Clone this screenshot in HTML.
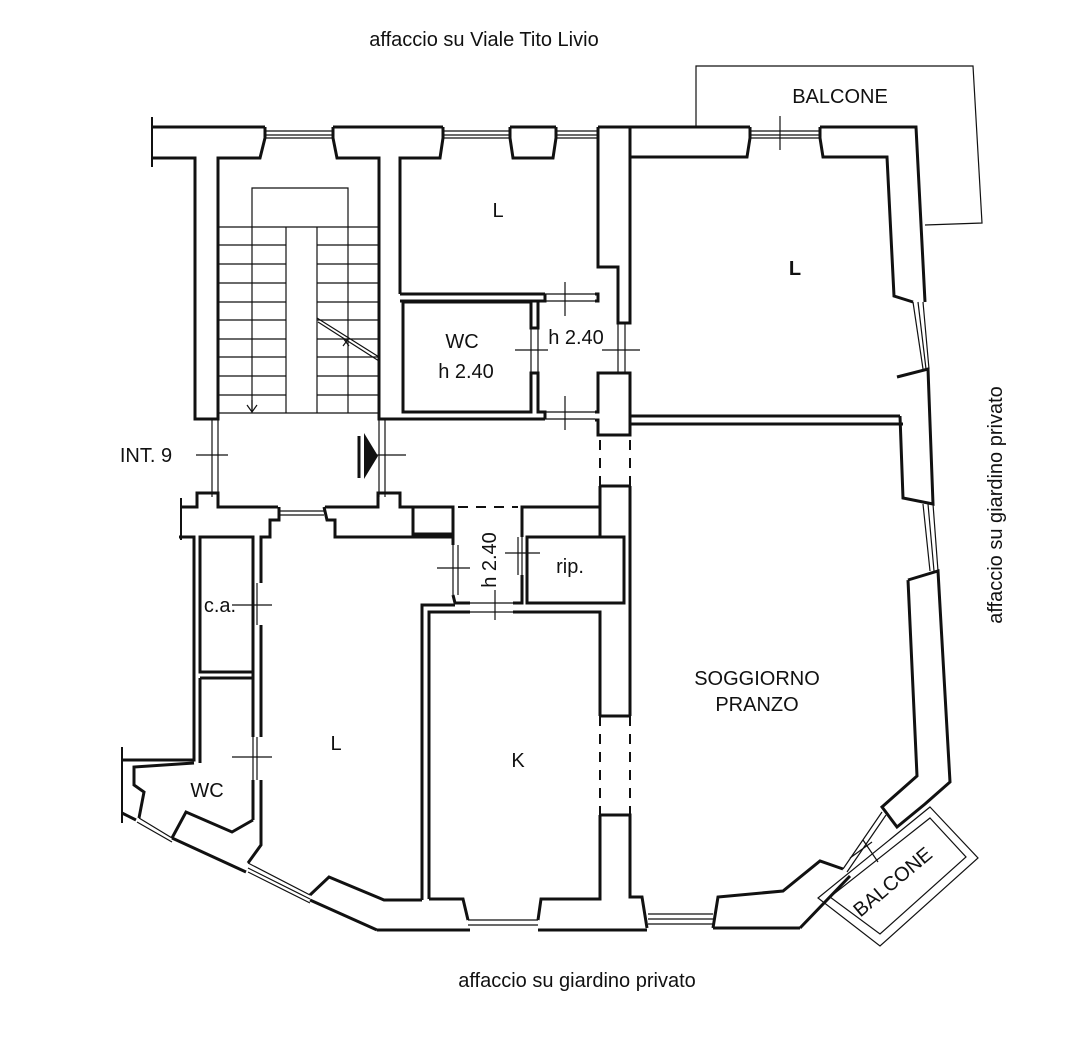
<!DOCTYPE html>
<html><head><meta charset="utf-8"><style>
html,body{margin:0;padding:0;background:#fff}
svg{display:block}
text{font-family:"Liberation Sans",sans-serif;font-size:20px;fill:#111}
</style></head><body>
<svg width="1071" height="1050" viewBox="0 0 1071 1050" xmlns="http://www.w3.org/2000/svg">
<g fill="none" stroke="#111" stroke-width="3" stroke-linejoin="miter">
<polyline points="152,127 265,127"/><polyline points="333,127 443,127"/><polyline points="510,127 556,127"/><polyline points="598,127 750,127"/><polyline points="820,127 916,127 925,302"/>
<polyline points="152,158 195,158 195,419 218,419 218,158 260,158 265,138 265,127"/>
<polyline points="333,127 333,138 337,158 379,158 379,419 400,419 545,419"/>
<polyline points="400,294 400,158 440,158 443,138 443,127"/>
<polyline points="510,127 510,138 513,158 553,158 556,138 556,127"/>
<polyline points="598,127 598,267 618,267 618,323 630,323 630,127"/>
<polyline points="400,294 545,294"/>
<polyline points="400,301 545,301 545,294"/>
<polyline points="403,302 531,302 531,328 538,328 538,302"/>
<polyline points="403,302 403,412 531,412 531,373 538,373 538,412 545,412 545,419"/>
<polyline points="595,294 598,294 598,301 595,301"/>
<polyline points="595,412 598,412 598,373 630,373 630,435 598,435 598,420 595,420"/>
<polyline points="750,127 750,138 747,157 630,157"/>
<polyline points="820,127 820,138 823,157 887,157 894,296 913,302"/>
<polyline points="630,373 630,416 900,416"/>
<polyline points="897,377 928,369 933,504 903,498 900,416"/>
<polyline points="630,435 630,424 903,424"/>
<polyline points="908,580 938,571 950,782 925,804 897,827 882,807 917,776 908,580"/>
<polyline points="843,869 820,861 783,891 718,897 713,928"/>
<polyline points="850,876 800,928"/>
<polyline points="630,486 630,716"/><polyline points="600,486 630,486"/><polyline points="600,486 600,537"/>
<polyline points="600,815 630,815 630,897 642,897 647,928"/>
<polyline points="600,716 630,716"/>
<polyline points="180,507 197,507 197,493 218,493 218,507 278,507"/>
<polyline points="325,507 378,507 378,493 400,493 400,507 453,507"/>
<polyline points="179,537 194,537 194,760 122,760"/>
<polyline points="200,537 253,537 253,583"/>
<polyline points="253,625 253,737"/><polyline points="253,780 253,820"/>
<polyline points="261,583 261,537 270,537 270,520 279,520 279,507"/>
<polyline points="324,507 327,520 335,520 335,537 453,537 453,545"/>
<rect x="200" y="537" width="53" height="135"/>
<polyline points="200,678 253,678"/><polyline points="200,678 200,763"/>
<polyline points="261,625 261,737"/><polyline points="261,780 261,845 248,863"/>
<rect x="413" y="507" width="40" height="27"/>
<polyline points="453,595 455,603 470,603"/>
<polyline points="422,900 422,605 455,605"/>
<polyline points="429,899 429,612 470,612"/>
<polyline points="513,603 522,603 522,575"/>
<polyline points="522,537 522,507 600,507"/>
<rect x="527" y="537" width="97" height="66"/>
<polyline points="513,612 600,612 600,716"/>
<polyline points="600,815 600,899 541,899 538,920"/>
<polyline points="429,899 463,899 468,920"/>
<polyline points="377,930 470,930"/><polyline points="538,930 647,930"/><polyline points="713,928 800,928"/>
<polyline points="422,900 384,900 329,877 310,895"/>
<polyline points="310,900 377,930"/>
<polyline points="172,838 246,872"/>
<polyline points="194,763 134,767 134,785 144,792 139,818"/>
<polyline points="172,838 186,812 232,832 253,820"/>
<polyline points="122,813 136,820"/>
</g>
<g fill="none" stroke="#111" stroke-width="1.2">
<path d="M152,117V167M181,498V540M122,747V823" stroke-width="2"/>
<path d="M265,131H333M265,135H333M265,138H333M443,131H510M443,135H510M443,138H510M556,131H598M556,135H598M556,138H598M750,131H820M750,135H820M750,138H820"/>
<path d="M913,302L923,369M918,302L926,369M923,302L929,369M923,504L930,571M928,504L934,571M933,504L938,571"/>
<path d="M648,914H713M648,919H713M648,924H713M468,920H538M468,925H538M279,511H324M279,515H324"/>
<path d="M248,863L310,895M248,868L310,899M248,872L310,903M139,818L172,838M137,822L172,842"/>
<path d="M882,812L843,869M886,815L847,872"/>
<path d="M212,419V497M218,419V497M379,419V497M385,419V497"/>
<path d="M545,294H595M545,301H595M545,412H595M545,419H595M531,328V373M538,328V373M618,323V373M625,323V373"/>
<path d="M253,583V625M257,583V625M253,737V780M257,737V780M453,545V595M458,545V595M518,537V575M522,537V575M470,603H513M470,612H513"/>
<path d="M600,440V486M630,440V486M600,716V815M630,716V815M458,507H518" stroke-dasharray="10,8" stroke-width="2"/>
<polyline points="696,127 696,66 973,66 982,223 925,225"/>
<polygon points="930,807 978,858 880,946 818,898"/>
<polygon points="930,818 966,857 880,934 830,897"/>
<path d="M252,227V188H348V227M218,227H379M218,413H379M252,227V413M286,227V413M317,227V413M348,227V413"/>
<path d="M218,245H286M317,245H379M218,264H286M317,264H379M218,283H286M317,283H379M218,302H286M317,302H379M218,320H286M317,320H379M218,339H286M317,339H379M218,357H286M317,357H379M218,376H286M317,376H379M218,395H286M317,395H379"/>
<path d="M317,318L379,357M318,322L379,361M252,400V412M247,405L252,412L257,405M343,338L349,346M349,338L343,346"/>
<path d="M196,455H228M364,455H406M565,282V316M515,350H548M602,350H640M565,396V430M780,116V150M232,605H272M232,757H272M437,568H470M505,553H540M495,590V620M863,840L878,862M850,858L872,842"/>
</g>
<line x1="359" y1="436" x2="359" y2="478" stroke="#111" stroke-width="3"/>
<polygon points="364,433 378,456 364,479" fill="#111"/>
<text x="484" y="46" text-anchor="middle">affaccio su Viale Tito Livio</text>
<text x="577" y="987" text-anchor="middle">affaccio su giardino privato</text>
<text transform="translate(1002,505) rotate(-90)" text-anchor="middle">affaccio su giardino privato</text>
<text x="840" y="103" text-anchor="middle">BALCONE</text>
<text transform="translate(897,887) rotate(-40)" text-anchor="middle">BALCONE</text>
<text x="498" y="217" text-anchor="middle">L</text>
<text x="795" y="275" text-anchor="middle" font-weight="bold">L</text>
<text x="462" y="348" text-anchor="middle">WC</text>
<text x="466" y="378" text-anchor="middle">h 2.40</text>
<text x="576" y="344" text-anchor="middle">h 2.40</text>
<text x="146" y="462" text-anchor="middle">INT. 9</text>
<text x="220" y="612" text-anchor="middle">c.a.</text>
<text x="207" y="797" text-anchor="middle">WC</text>
<text x="336" y="750" text-anchor="middle">L</text>
<text x="518" y="767" text-anchor="middle">K</text>
<text x="757" y="685" text-anchor="middle">SOGGIORNO</text>
<text x="757" y="711" text-anchor="middle">PRANZO</text>
<text x="570" y="573" text-anchor="middle">rip.</text>
<text transform="translate(496,560) rotate(-90)" text-anchor="middle">h 2.40</text>
</svg>
</body></html>
